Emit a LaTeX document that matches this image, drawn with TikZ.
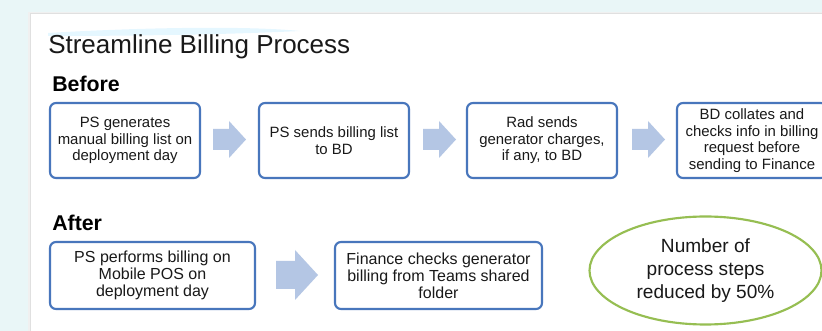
\documentclass[tikz,border=0pt]{standalone}
\usepackage{fontspec}
\setmainfont{Liberation Sans}
\usetikzlibrary{shapes.geometric}
\definecolor{pagebg}{RGB}{233,246,247}
\definecolor{boxblue}{RGB}{72,118,188}
\definecolor{arrowfill}{RGB}{180,198,228}
\definecolor{ovalgreen}{RGB}{150,190,82}
\definecolor{inkgray}{RGB}{25,25,25}
\tikzset{
  stepbox/.style={draw=boxblue, line width=1.6pt, rounded corners=4.5pt,
    align=center, text=inkgray, inner sep=2pt,
    font=\fontsize{11.2pt}{12.4pt}\selectfont},
  afterbox/.style={stepbox, font=\fontsize{12pt}{12.6pt}\selectfont},
  heading/.style={anchor=base west, text=black, inner sep=0pt,
    font=\bfseries\fontsize{16pt}{16pt}\selectfont},
  arrowbody/.style={fill=arrowfill, draw=none}
}
\begin{document}
\begin{tikzpicture}[x=0.75pt, y=-0.75pt]
\useasboundingbox (0,0) rectangle (822,331);
\clip (0,0) rectangle (822,331);
% backdrop and slide sheet
\fill[pagebg] (0,0) rectangle (822,331);
\fill[black!6] (28,12) rectangle (822,331);
\fill[black!12] (29.5,13) rectangle (822,331);
\fill[white] (31,14) rectangle (822,331);
% faint swoosh behind the title
\fill[blue!30!cyan, opacity=0.10] (48,33) .. controls (150,27) and (250,26) .. (300,31)
  .. controls (240,34) and (150,36) .. (48,36) -- cycle;
% title and section headings
\node[anchor=base west, inner sep=0pt, text=inkgray,
  font=\fontsize{19.5pt}{19.5pt}\selectfont] (title) at (48,54) {Streamline Billing Process};
\node[heading] (before) at (52,92) {Before};
\node[heading] (after) at (52,231) {After};
% before: four steps
\node[stepbox, minimum width=112.5pt, minimum height=56.25pt] (b1) at (125,140.5)
  {PS generates\\manual billing list on\\deployment day};
\node[stepbox, minimum width=112.5pt, minimum height=56.25pt] (b2) at (334,140.5)
  {PS sends billing list\\to BD};
\node[stepbox, minimum width=112.5pt, minimum height=56.25pt] (b3) at (542,140.5)
  {Rad sends\\generator charges,\\if any, to BD};
\node[stepbox, minimum width=112.5pt, minimum height=56.25pt] (b4) at (752,140.5)
  {BD collates and\\checks info in billing\\request before\\sending to Finance};
% before: block arrows between steps
\coordinate (a1) at (213,139.5);
\coordinate (a2) at (423,139.5);
\coordinate (a3) at (632,139.5);
\foreach \c in {a1,a2,a3}
  \fill[arrowbody] (\c) ++(0,-10.5) -- ++(16,0) -- ++(0,-8) -- ++(17,18.5)
    -- ++(-17,18.5) -- ++(0,-8) -- ++(-16,0) -- cycle;
% after: two steps
\node[afterbox, minimum width=153.75pt, minimum height=50.25pt] (c1) at (152.5,275.5)
  {PS performs billing on\\Mobile POS on\\deployment day};
\node[afterbox, minimum width=155.25pt, minimum height=50.25pt] (c2) at (438.5,275.5)
  {Finance checks generator\\billing from Teams shared\\folder};
\coordinate (a4) at (276,275);
\fill[arrowbody] (a4) ++(0,-14) -- ++(19,0) -- ++(0,-11) -- ++(23,25)
  -- ++(-23,25) -- ++(0,-11) -- ++(-19,0) -- cycle;
% outcome
\node[ellipse, draw=ovalgreen, line width=1.6pt, minimum width=174pt,
  minimum height=81pt, align=center, text=inkgray, inner sep=0pt,
  font=\fontsize{14.3pt}{17pt}\selectfont] (result) at (705.5,270.5)
  {Number of\\process steps\\reduced by 50\%};
\end{tikzpicture}
\end{document}
